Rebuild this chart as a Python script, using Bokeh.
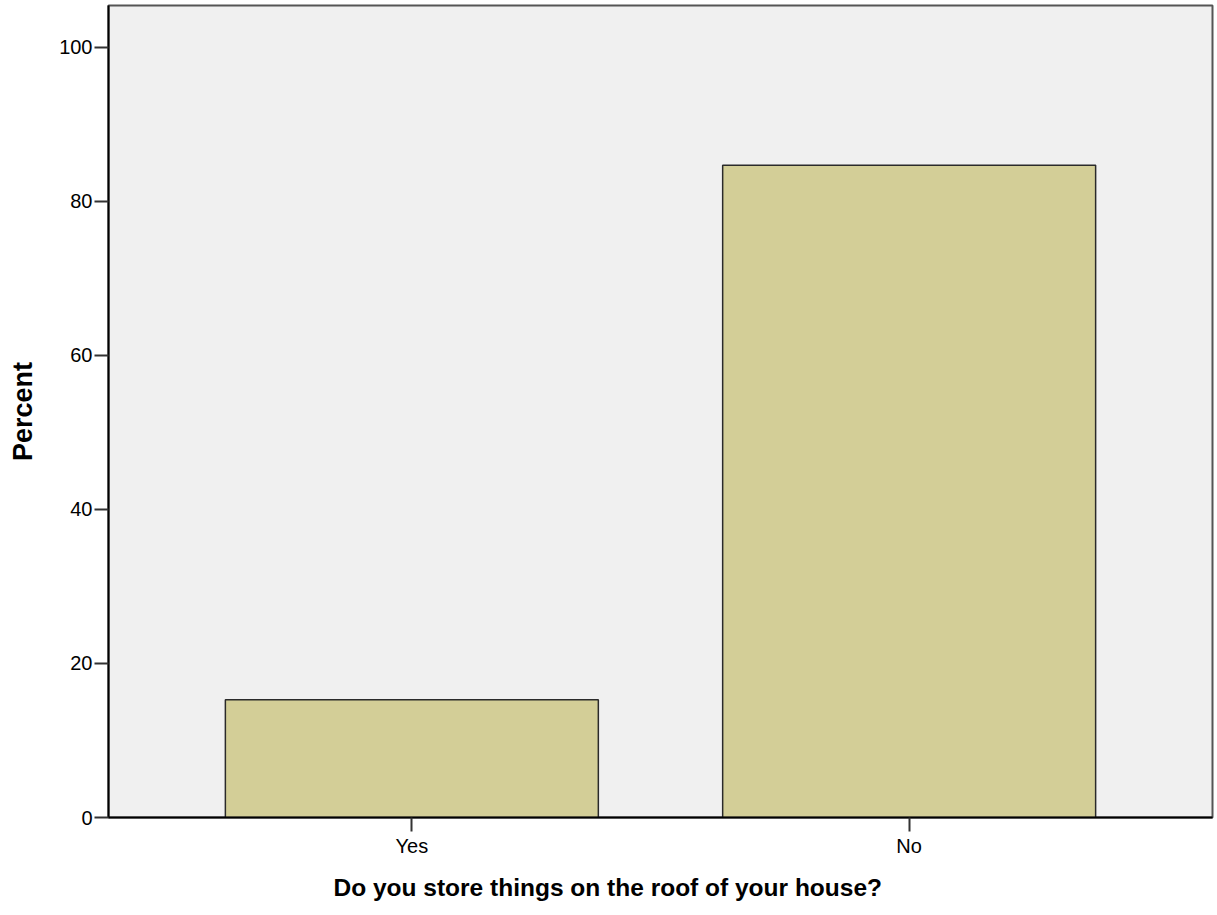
from bokeh.plotting import figure
from bokeh.models import FactorRange, Range1d, FixedTicker, Title
from bokeh.embed import file_html
from bokeh.resources import INLINE

categories = ["Yes", "No"]
percents = [15.3, 84.7]
y_ticks = [0, 20, 40, 60, 80, 100]
x_title = "Do you store things on the roof of your house?"
y_title = "Percent"

p = figure(
    width=1214, height=912,
    x_range=FactorRange(factors=categories, range_padding=0.11, range_padding_units="absolute"),
    y_range=Range1d(0, 105.45),
    output_backend="svg", toolbar_location=None,
    min_border_left=108, min_border_right=2, min_border_top=5, min_border_bottom=95,
)

p.vbar(x=categories, top=percents, width=0.75,
       fill_color="#D3CE97", line_color="#2a2a2a", line_width=1.5)

p.background_fill_color = "#F0F0F0"
p.border_fill_color = "white"
p.outline_line_color = "#555555"
p.outline_line_width = 2
p.xgrid.visible = False
p.ygrid.visible = False

font = "Liberation Sans"

p.yaxis.ticker = FixedTicker(ticks=y_ticks)
p.yaxis.axis_label = y_title

for ax in (p.xaxis[0], p.yaxis[0]):
    ax.axis_line_color = "black"
    ax.axis_line_width = 2
    ax.major_tick_line_color = "#333333"
    ax.major_tick_line_width = 2
    ax.major_tick_out = 14
    ax.major_tick_in = 0
    ax.minor_tick_line_color = None
    ax.major_label_text_font = font
    ax.major_label_text_font_size = "20px"
    ax.major_label_text_color = "black"
    ax.axis_label_text_font = font
    ax.axis_label_text_font_style = "bold"
    ax.axis_label_text_color = "black"

p.yaxis.major_label_standoff = 2
p.xaxis.major_label_standoff = 3
p.yaxis.axis_label_text_font_size = "27px"
p.yaxis.axis_label_standoff = 18

xtitle = Title(text=x_title, align="left", offset=225, standoff=24,
               text_font=font, text_font_style="bold", text_font_size="24.5px",
               text_color="black")
p.add_layout(xtitle, "below")

open("out.html", "w").write(file_html(p, INLINE))
